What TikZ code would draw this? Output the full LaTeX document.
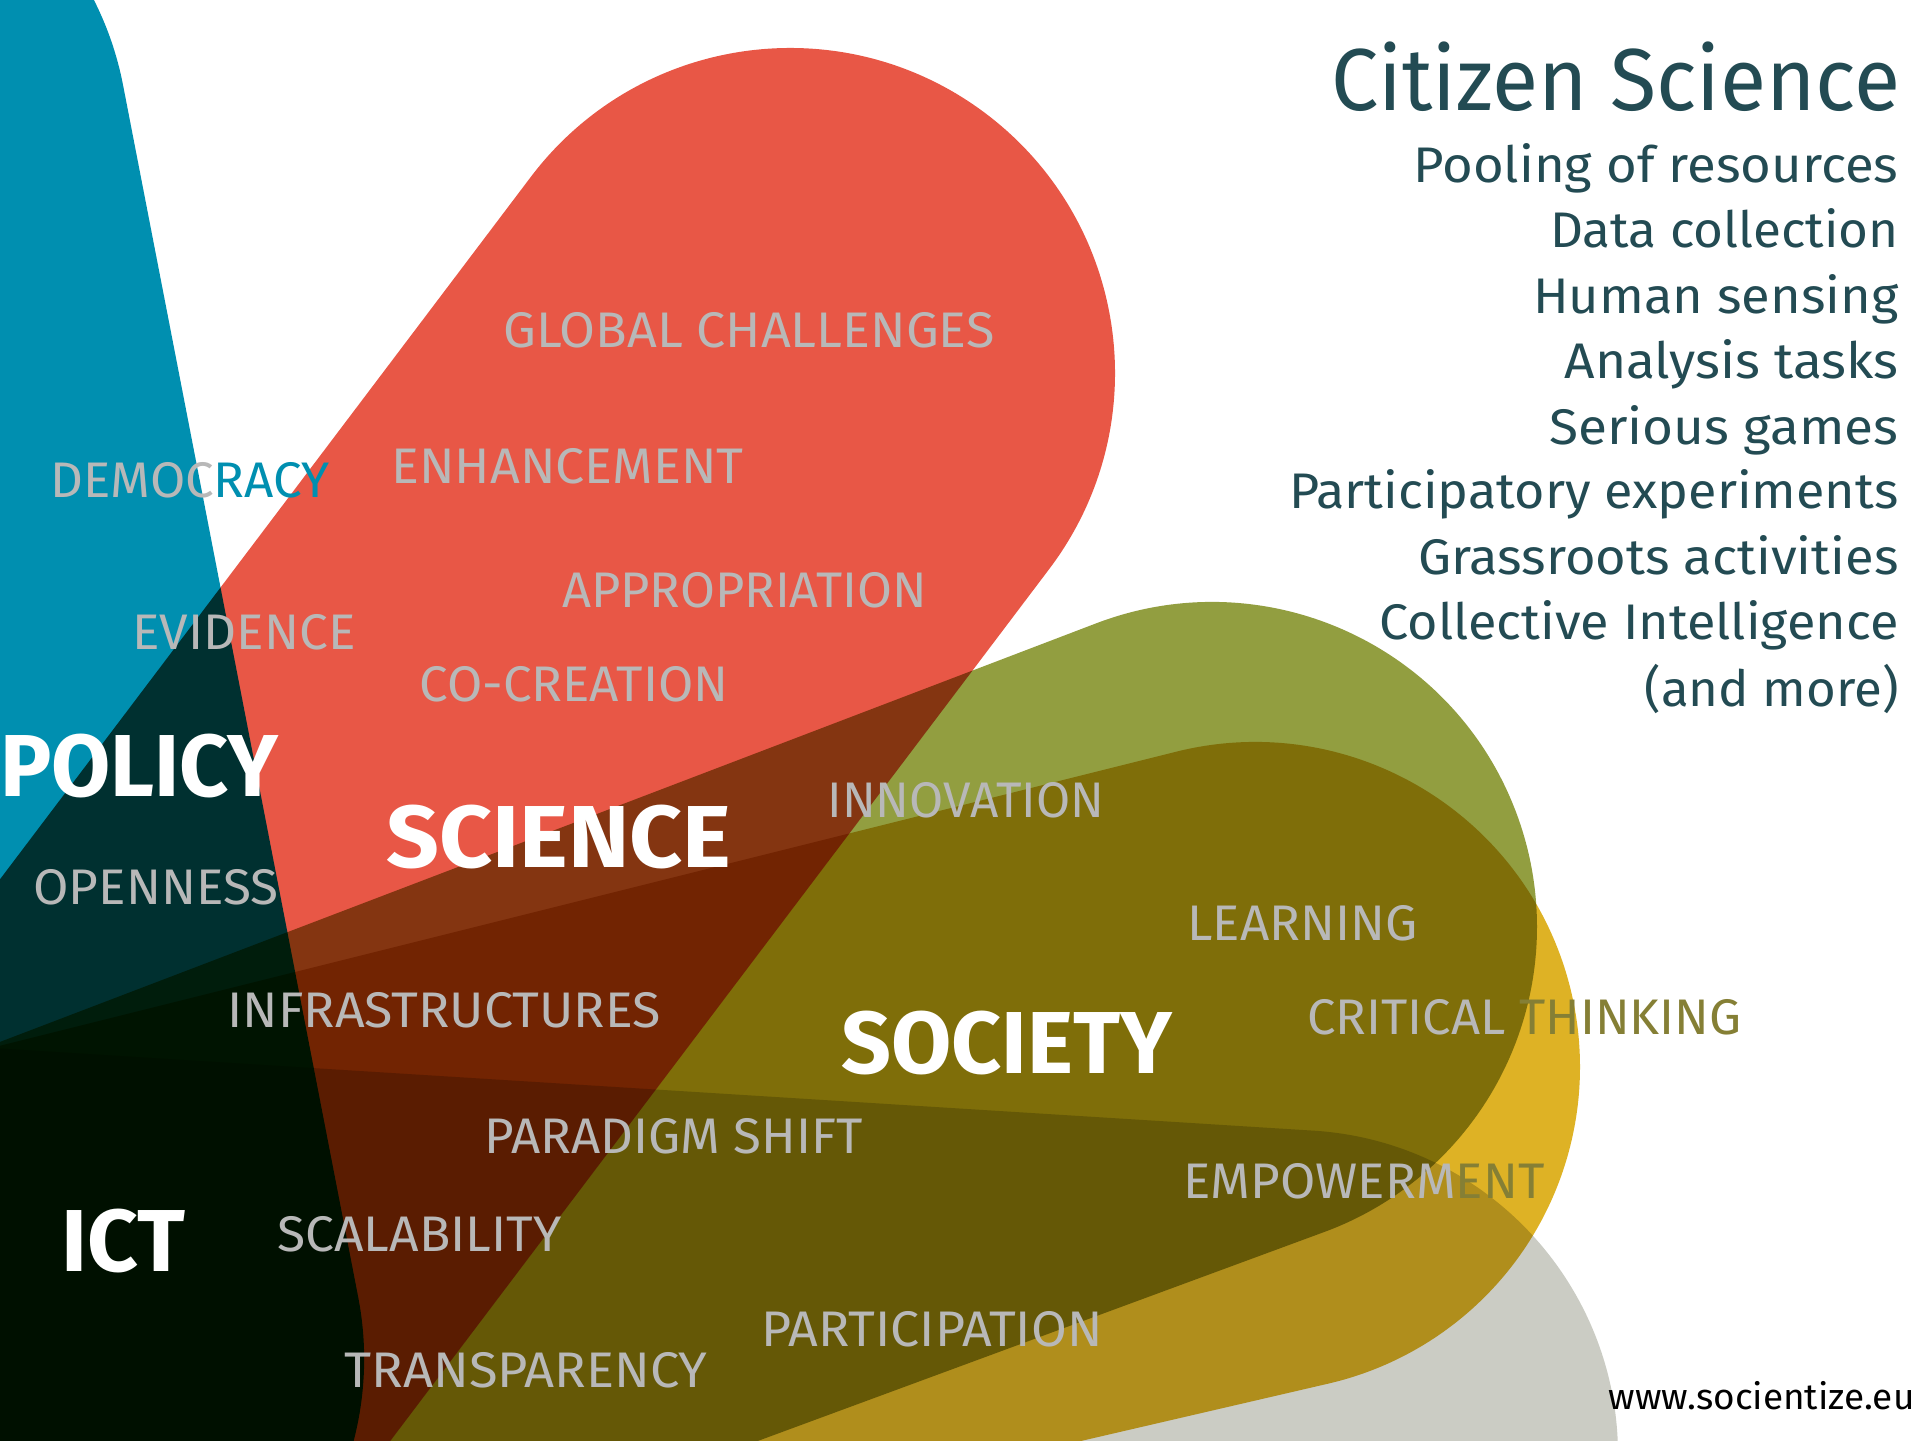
\documentclass[tikz,border=0pt]{standalone}
\usepackage{fontspec}
\usepackage{graphicx}
\setmainfont{Fira Sans}[BoldFont=* Bold]
\definecolor{cteal}{HTML}{008FB0}
\definecolor{cred}{HTML}{E85746}
\definecolor{colive}{HTML}{929E40}
\definecolor{cyellow}{HTML}{DEB225}
\definecolor{cgray}{HTML}{CBCCC4}
\definecolor{ctext}{HTML}{B8B8B8}
\definecolor{cink}{HTML}{234B53}
\definecolor{colivetext}{HTML}{857F35}
% stadium: centre, first normal angle, last normal angle, colour
\newcommand{\stadiumshape}[5]{%
  \fill[#5,blend mode=multiply] (#1,#2) ++(#3:325) ++(#3+90:3000) -- ++(#3-90:3000)
    arc[start angle=#3,end angle=#4,radius=325]
    -- ++(#4-90:3000) -- cycle;}
% fitted text: name, style, left, right, baseline (from top), text
\newcommand{\fitlabel}[6]{%
  \node[#2,anchor=base west] (#1) at (#3-2.5,1440-#5-1.5)
    {\resizebox{\dimexpr (#4pt-#3pt+5pt)/2\relax}{\height}{#6}};}
\tikzset{
  word/.style={inner sep=0pt,outer sep=0pt,text=ctext,font=\fontsize{25}{30}\selectfont},
  theme/.style={inner sep=0pt,outer sep=0pt,text=white,font=\fontsize{44}{52}\selectfont\bfseries},
  heading/.style={inner sep=0pt,outer sep=0pt,text=cink,font=\fontsize{44}{52}\selectfont},
  item/.style={inner sep=0pt,outer sep=0pt,text=cink,font=\fontsize{25}{30}\selectfont},
  site/.style={inner sep=0pt,outer sep=0pt,text=black,font=\fontsize{18}{22}\selectfont}
}
\begin{document}
\begin{tikzpicture}[x=0.5pt,y=0.5pt]
\useasboundingbox (0,0) rectangle (1920,1440);
\fill[white] (0,0) rectangle (1920,1440);
\begin{scope}
\clip (0,0) rectangle (1920,1440);
% teal
\fill[cteal,blend mode=multiply] (-196,1618)
   arc[start angle=90,end angle=10.98,radius=325]
   -- (358.2,142.9)
   arc[start angle=10.98,end angle=-90,radius=325]
   -- (-600,-244) -- (-600,1618) -- cycle;
\stadiumshape{790}{1067}{142.92}{-37.08}{cred}
\stadiumshape{1212}{513}{110.9}{-69.75}{colive}
\stadiumshape{1255}{373}{104.04}{-76.94}{cyellow}
\stadiumshape{1293}{-15}{86.42}{-90}{cgray}
\end{scope}
% words
\fitlabel{w1}{word}{506}{992}{346.5}{GLOBAL CHALLENGES}
\fitlabel{w2}{word}{394}{741}{482.5}{ENHANCEMENT}
\fitlabel{w3}{word}{564.5}{924.5}{606}{APPROPRIATION}
\fitlabel{w4}{word}{422}{726}{700.5}{CO-CREATION}
\fitlabel{w5}{word}{53}{327}{496}{DEMOC\textcolor{cteal}{RACY}}
\fitlabel{w6}{word}{135}{353}{648}{EVIDENCE}
\fitlabel{w7}{word}{36}{276}{903}{OPENNESS}
\fitlabel{w8}{word}{830}{1102}{816}{INNOVATION}
\fitlabel{w9}{word}{1190}{1415}{939.5}{LEARNING}
\fitlabel{w10}{word}{1310}{1739}{1033}{CRITICAL \textcolor{colivetext}{THINKING}}
\fitlabel{w11}{word}{1186}{1542}{1197}{EMPOWERM\textcolor{colivetext}{ENT}}
\fitlabel{w12}{word}{230}{658}{1026}{INFRASTRUCTURES}
\fitlabel{w13}{word}{487}{860}{1152}{PARADIGM SHIFT}
\fitlabel{w14}{word}{280}{559}{1250}{SCALABILITY}
\fitlabel{w15}{word}{347}{705}{1386}{TRANSPARENCY}
\fitlabel{w16}{word}{764}{1100}{1345}{PARTICIPATION}
% themes
\fitlabel{t1}{theme}{2.5}{276}{795}{POLICY}
\fitlabel{t2}{theme}{389}{729}{866}{SCIENCE}
\fitlabel{t3}{theme}{844}{1170}{1072}{SOCIETY}
\fitlabel{t4}{theme}{64}{183}{1270}{ICT}
% right column
\fitlabel{h}{heading}{1333.6}{1898}{108.6}{Citizen Science}
\fitlabel{i1}{item}{1415.7}{1896}{180.7}{Pooling of resources}
\fitlabel{i2}{item}{1552.5}{1896}{246.3}{Data collection}
\fitlabel{i3}{item}{1535.7}{1896}{311.9}{Human sensing}
\fitlabel{i4}{item}{1567}{1896}{377.5}{Analysis tasks}
\fitlabel{i5}{item}{1552}{1896}{443.1}{Serious games}
\fitlabel{i6}{item}{1291.6}{1896}{507.5}{Participatory experiments}
\fitlabel{i7}{item}{1420.8}{1896}{573.3}{Grassroots activities}
\fitlabel{i8}{item}{1382}{1896}{638.5}{Collective Intelligence}
\fitlabel{i9}{item}{1647}{1896}{705}{(and more)}
\fitlabel{s}{site}{1611}{1912}{1408}{www.socientize.eu}
\end{tikzpicture}
\end{document}
